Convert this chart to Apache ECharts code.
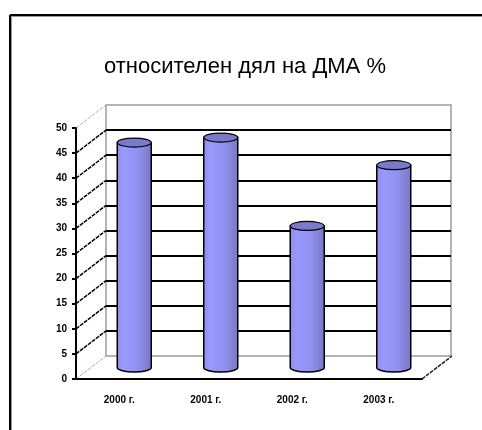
<!DOCTYPE html>
<html>
<head>
<meta charset="utf-8">
<style>
  html, body { margin: 0; padding: 0; background: #fff; }
  #chart { width: 482px; height: 430px; }
</style>
<script src="https://cdn.jsdelivr.net/npm/echarts@6/dist/echarts.min.js"></script>
</head>
<body>
<div id="chart"></div>
<script>
const years = ['2000 г.', '2001 г.', '2002 г.', '2003 г.'];
const shares = [44.8, 45.8, 28.2, 40.3];
const yTicks = [0, 5, 10, 15, 20, 25, 30, 35, 40, 45, 50];

// depth of the fake 3d box, px
const depth = [30, -23];
const barW = 34;
const capH = 9;

const chart = echarts.init(document.getElementById('chart'));

const barFill = new echarts.graphic.LinearGradient(0, 0, 1, 0, [
  { offset: 0, color: '#8e8eea' },
  { offset: 0.2, color: '#9999ff' },
  { offset: 0.6, color: '#9191f0' },
  { offset: 0.8, color: '#8484d8' },
  { offset: 1, color: '#7777c4' },
]);

chart.setOption({
  animation: false,
  title: {
    text: 'относителен дял на ДМА %',
    left: 240,
    top: 51,
    textAlign: 'center',
    textStyle: { fontFamily: 'Liberation Sans', fontSize: 22, fontWeight: 'normal', color: '#000' },
  },
  graphic: [
    { type: 'line', shape: { x1: 10, y1: 15, x2: 482, y2: 15 }, style: { stroke: '#000', lineWidth: 2 } },
    { type: 'line', shape: { x1: 10, y1: 15, x2: 10, y2: 430 }, style: { stroke: '#000', lineWidth: 2 } },
    { type: 'line', shape: { x1: 11.5, y1: 16.5, x2: 482, y2: 16.5 }, style: { stroke: '#999', lineWidth: 1 } },
    { type: 'line', shape: { x1: 11.5, y1: 16.5, x2: 11.5, y2: 430 }, style: { stroke: '#999', lineWidth: 1 } },
  ],
  grid: [
    // front plane, carries the axes and the bars
    { left: 76, top: 128, width: 346, height: 251 },
    // back wall
    { left: 106, top: 105, width: 345, height: 251, show: true, borderColor: '#b4b4b4', borderWidth: 2, backgroundColor: 'transparent' },
  ],
  xAxis: [
    {
      type: 'category',
      data: years,
      gridIndex: 0,
      z: 5,
      axisLine: { lineStyle: { color: '#000', width: 2 } },
      axisTick: { alignWithLabel: false, length: 4, lineStyle: { color: '#000', width: 2 } },
      axisLabel: { interval: 0, margin: 16, fontFamily: 'Liberation Sans', fontSize: 10, fontWeight: 'bold', color: '#000' },
    },
    { type: 'category', data: years, gridIndex: 1, axisLine: { show: false }, axisTick: { show: false }, axisLabel: { show: false } },
  ],
  yAxis: [
    {
      type: 'value',
      gridIndex: 0,
      min: 0,
      max: 50,
      interval: 5,
      z: 5,
      splitLine: { show: false },
      axisLine: { show: true, lineStyle: { color: '#000', width: 2 } },
      axisTick: { show: true, length: 4, lineStyle: { color: '#000', width: 2 } },
      axisLabel: { margin: 9, fontFamily: 'Liberation Sans', fontSize: 10, fontWeight: 'bold', color: '#000' },
    },
    {
      type: 'value',
      gridIndex: 1,
      min: 0,
      max: 50,
      interval: 5,
      axisLine: { show: false },
      axisTick: { show: false },
      axisLabel: { show: false },
      splitLine: { show: true, showMinLine: false, showMaxLine: false, lineStyle: { color: '#000', width: 2 } },
    },
  ],
  series: [
    {
      // diagonal lines on the left side wall
      type: 'custom',
      xAxisIndex: 0,
      yAxisIndex: 0,
      z: 2,
      silent: true,
      data: yTicks,
      encode: { y: 0 },
      renderItem(params, api) {
        const v = api.value(0);
        const p = api.coord([0, v]);
        const x0 = p[0] - api.size([1, 0])[0] / 2;
        const edge = v === 0 || v === 50;
        return {
          type: 'line',
          shape: { x1: x0, y1: p[1], x2: x0 + depth[0], y2: p[1] + depth[1] },
          style: { stroke: edge ? '#b4b4b4' : '#000', lineWidth: edge ? 1 : 1.5, lineDash: [4, 1] },
        };
      },
    },
    {
      // right floor edge
      type: 'custom',
      xAxisIndex: 0,
      yAxisIndex: 0,
      z: 2,
      silent: true,
      data: [[years[3], 0]],
      renderItem(params, api) {
        const p = api.coord([3, 0]);
        const x0 = p[0] + api.size([1, 0])[0] / 2;
        return {
          type: 'line',
          shape: { x1: x0, y1: p[1], x2: x0 + depth[0], y2: p[1] + depth[1] },
          style: { stroke: '#222', lineWidth: 1.5, lineDash: [4, 1] },
        };
      },
    },
    {
      // cylinders
      type: 'custom',
      xAxisIndex: 0,
      yAxisIndex: 0,
      z: 4,
      data: shares.map((v, i) => [i, v]),
      encode: { x: 0, y: 1 },
      renderItem(params, api) {
        const top = api.coord([api.value(0), api.value(1)]);
        const bottom = api.coord([api.value(0), 0]);
        const cx = top[0] + depth[0] / 2;
        const yTop = top[1] + depth[1] / 2;
        const yBot = bottom[1] + depth[1] / 2;
        const rx = barW / 2;
        const ry = capH / 2;
        const body = `M${cx - rx} ${yTop}L${cx - rx} ${yBot}A${rx} ${ry} 0 0 0 ${cx + rx} ${yBot}L${cx + rx} ${yTop}Z`;
        return {
          type: 'group',
          children: [
            {
              type: 'path',
              shape: { pathData: body, layout: 'cover', x: cx - rx, y: yTop, width: barW, height: yBot - yTop + ry },
              style: { fill: barFill, stroke: '#000', lineWidth: 1.5 },
            },
            {
              type: 'ellipse',
              shape: { cx: cx, cy: yTop, rx: rx, ry: ry },
              style: { fill: '#7a7acc', stroke: '#000', lineWidth: 1.2 },
            },
          ],
        };
      },
    },
  ],
});

window.addEventListener('resize', () => { chart.resize(); });
</script>
</body>
</html>
